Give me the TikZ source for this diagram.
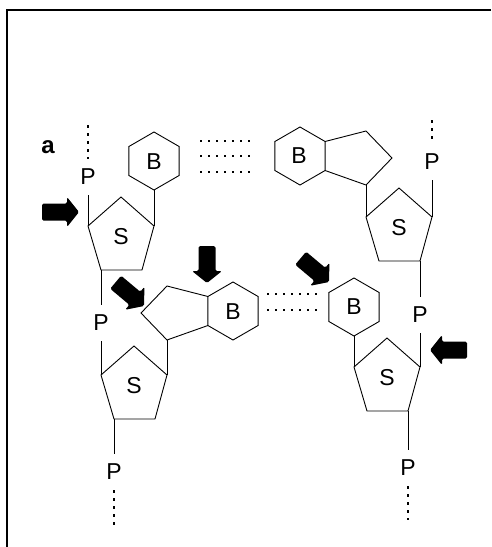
\documentclass[tikz,border=0pt]{standalone}
\usepackage{fontspec}
\setmainfont{Liberation Sans}
\begin{document}
\begin{tikzpicture}[x=1pt,y=-1pt,
  bond/.style={line width=0.9pt, line join=miter},
  hbond/.style={line width=1.3pt, dash pattern=on 2pt off 6pt},
  chainend/.style={line width=1.2pt, dash pattern=on 3pt off 5pt},
  lbl/.style={font=\fontsize{23}{26}\selectfont, inner sep=0pt},
  phos/.style={lbl, minimum height=36pt},
  frame/.style={line width=2pt},
  tagfont/.style={font=\bfseries\fontsize{24}{28}\selectfont, inner sep=0pt}]

\tikzset{
  % six-membered base ring, pointy top, centred on the pic origin
  hexring/.pic={
    \coordinate (-t)  at (0,-29);
    \coordinate (-ur) at (25.1,-14.5);
    \coordinate (-lr) at (25.1,14.5);
    \coordinate (-b)  at (0,29);
    \coordinate (-ll) at (-25.1,14.5);
    \coordinate (-ul) at (-25.1,-14.5);
    \draw[bond] (-t) -- (-ur) -- (-lr) -- (-b) -- (-ll) -- (-ul) -- cycle;
  },
  % fused six/five ring base; the five ring sits on the left side
  purine/.pic={
    \coordinate (-t)  at (0,-29);
    \coordinate (-ur) at (25.1,-14.5);
    \coordinate (-lr) at (25.1,14.5);
    \coordinate (-b)  at (0,29);
    \coordinate (-ll) at (-25.1,14.5);
    \coordinate (-ul) at (-25.1,-14.5);
    \coordinate (-f1) at (-66,-25);
    \coordinate (-f2) at (-92,2);
    \coordinate (-f3) at (-66,29);
    \draw[bond] (-t) -- (-ur) -- (-lr) -- (-b) -- (-ll) -- (-ul) -- cycle;
    \draw[bond] (-ul) -- (-f1) -- (-f2) -- (-f3) -- (-ll);
  },
  % sugar ring, origin at the top corner
  sugar/.pic={
    \coordinate (-t)  at (0,0);
    \coordinate (-ul) at (-33,29);
    \coordinate (-ur) at (33,29);
    \coordinate (-lr) at (21,73);
    \coordinate (-ll) at (-20,73);
    \draw[bond] (-t) -- (-ur) -- (-lr) -- (-ll) -- (-ul) -- cycle;
  },
  % solid block arrow, tip at the origin, pointing along +x
  blockarrow/.pic={
    \fill[rounded corners=1.5pt] (0,0) -- (-12,-15) -- (-12,-8.5) -- (-37,-8.5)
      -- (-37,8.5) -- (-12,8.5) -- (-12,15) -- cycle;
  }
}

\useasboundingbox (0,0) rectangle (491,547);

% frame
\coordinate (fr1) at (491,10);
\coordinate (fr2) at (6.5,10);
\coordinate (fr3) at (6.5,547);
\draw[frame] (fr1) -- (fr2) -- (fr3);

\node[tagfont] (tag) at (48,147) {a};

% left strand
\coordinate (e1) at (88,125);
\node[phos] (p1) at (88,177) {P};
\pic (s1) at (121,197) {sugar};
\node[lbl] (s1l) at (121,237) {S};
\pic (b1) at (154,161) {hexring};
\node[lbl] (b1l) at (154,162) {B};
\draw[chainend] (e1) -- (p1);
\draw[bond] (p1) -- (s1-ul);
\draw[bond] (s1-ur) -- (b1-b);

\node[phos] (p2) at (101,323) {P};
\draw[bond] (s1-ll) -- (p2);
\pic (s2) at (134,346) {sugar};
\node[lbl] (s2l) at (134,386) {S};
\draw[bond] (p2) -- (s2-ul);
\pic (b2) at (233,311) {purine};
\node[lbl] (b2l) at (233,312) {B};
\draw[bond] (s2-ur) -- (b2-f3);
\node[phos] (p3) at (114,472) {P};
\draw[bond] (s2-ll) -- (p3);
\coordinate (e3) at (114,525);
\draw[chainend] (p3) -- (e3);

% right strand
\coordinate (e6) at (432,120);
\node[phos] (p6) at (432,162) {P};
\pic[xscale=-1] (b4) at (300,156) {purine};
\node[lbl] (b4l) at (299,156) {B};
\pic (s4) at (399,188) {sugar};
\node[lbl] (s4l) at (399,228) {S};
\draw[chainend] (e6) -- (p6);
\draw[bond] (p6) -- (s4-ur);
\draw[bond] (b4-f3) -- (s4-ul);
\node[phos] (p4) at (420,315) {P};
\draw[bond] (s4-lr) -- (p4);
\pic (s3) at (387,338) {sugar};
\node[lbl] (s3l) at (387,378) {S};
\draw[bond] (p4) -- (s3-ur);
\pic (b3) at (354,307) {hexring};
\node[lbl] (b3l) at (354,307) {B};
\draw[bond] (b3-b) -- (s3-ul);
\node[phos] (p5) at (408,468) {P};
\draw[bond] (s3-lr) -- (p5);
\coordinate (e5) at (408,520);
\draw[chainend] (p5) -- (e5);

% hydrogen bonds between the paired bases
\coordinate (ha1) at (200,141); \coordinate (hb1) at (252,141);
\coordinate (ha2) at (200,156); \coordinate (hb2) at (252,156);
\coordinate (ha3) at (200,172); \coordinate (hb3) at (252,172);
\draw[hbond] (ha1) -- (hb1);
\draw[hbond] (ha2) -- (hb2);
\draw[hbond] (ha3) -- (hb3);
\coordinate (hc1) at (267,294); \coordinate (hd1) at (319,294);
\coordinate (hc2) at (267,310); \coordinate (hd2) at (319,310);
\draw[hbond] (hc1) -- (hd1);
\draw[hbond] (hc2) -- (hd2);

% block arrows
\pic at (79,212) {blockarrow};
\pic[rotate=-40] at (144,306) {blockarrow};
\pic[rotate=-90] at (207,283) {blockarrow};
\pic[rotate=-40] at (329,282) {blockarrow};
\pic[rotate=180] at (430,350) {blockarrow};

\end{tikzpicture}
\end{document}
